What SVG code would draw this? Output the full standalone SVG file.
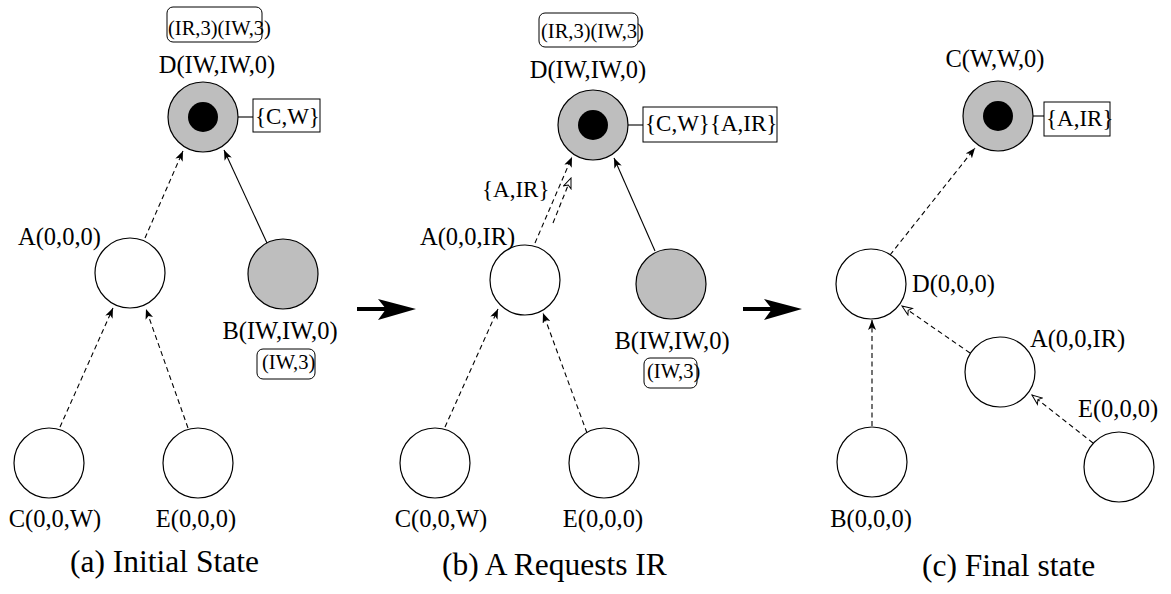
<svg xmlns="http://www.w3.org/2000/svg" width="1171" height="594" viewBox="0 0 1171 594">
<style>
text{font-family:"Liberation Serif","Times New Roman",serif;fill:#000}
.lbl{font-size:24.5px}
.box{font-size:20.5px}
.set{font-size:23px}
.cap{font-size:31.5px}
.mid{text-anchor:middle}
.n{fill:#fff;stroke:#000;stroke-width:1.2}
.g{fill:#bebebe;stroke:#000;stroke-width:1.2}
.core{fill:#000}
.rb{fill:none;stroke:#000;stroke-width:1}
.e{fill:none;stroke:#000;stroke-width:1.1}
.d{stroke-dasharray:5 3.5}
.f{marker-end:url(#af)}
.o{marker-end:url(#ao)}
</style>
<defs>
<marker id="af" viewBox="0 0 10 8" refX="10" refY="4" markerWidth="10" markerHeight="8" markerUnits="userSpaceOnUse" orient="auto">
<path d="M0,0 L10,4 L0,8 L2.5,4 Z" fill="#000"/>
</marker>
<marker id="ao" viewBox="-1 -1 12 10" refX="10" refY="4" markerWidth="12" markerHeight="10" markerUnits="userSpaceOnUse" orient="auto">
<path d="M0,0 L10,4 L0,8 L2.5,4 Z" fill="#fff" stroke="#000" stroke-width="1"/>
</marker>
</defs>

<g id="connectors">
<!-- panel a -->
<line class="e d f" x1="145" y1="238" x2="183" y2="151"/>
<line class="e f" x1="267" y1="243" x2="224" y2="150"/>
<line class="e d f" x1="60" y1="427" x2="113" y2="308"/>
<line class="e d f" x1="188" y1="428" x2="146" y2="309"/>
<!-- panel b -->
<line class="e d f" x1="535" y1="243" x2="572" y2="157"/>
<line class="e d o" x1="553" y1="223" x2="571" y2="178"/>
<line class="e f" x1="655" y1="251" x2="614" y2="158"/>
<line class="e d f" x1="445" y1="427" x2="498" y2="309"/>
<line class="e d f" x1="587" y1="433" x2="543" y2="313"/>
<!-- panel c -->
<line class="e d f" x1="890" y1="255" x2="975" y2="148"/>
<line class="e d f" x1="872" y1="426" x2="872" y2="320"/>
<line class="e d o" x1="970" y1="353" x2="902" y2="306"/>
<line class="e d o" x1="1093" y1="443" x2="1032" y2="395"/>
<!-- attachment lines -->
<line class="e" x1="238" y1="117" x2="253" y2="117"/>
<line class="e" x1="628" y1="125" x2="643" y2="125"/>
<line class="e" x1="1033" y1="116" x2="1044" y2="116"/>
<!-- transition arrows -->
<line x1="357" y1="309" x2="388" y2="309" stroke="#000" stroke-width="4"/>
<path d="M378,299 L416,309 L378,320 L386,309 Z" fill="#000"/>
<line x1="743" y1="309" x2="774" y2="309" stroke="#000" stroke-width="4"/>
<path d="M764,299 L802,309 L764,320 L772,309 Z" fill="#000"/>
</g>

<!-- Panel (a) -->
<g id="a-D">
<rect class="rb" x="167" y="7" width="95" height="35" rx="6"/>
<text class="box" x="168" y="35">(IR,3)(IW,3)</text>
<text class="lbl mid" x="217" y="73">D(IW,IW,0)</text>
<circle class="g" cx="203" cy="117" r="35"/>
<circle class="core" cx="203" cy="117" r="15"/>
<rect class="rb" x="253" y="99" width="67" height="33"/>
<text class="set" x="255" y="124">{C,W}</text>
</g>
<g id="a-A">
<circle class="n" cx="130" cy="273" r="35"/>
<text class="lbl" x="18" y="245">A(0,0,0)</text>
</g>
<g id="a-B">
<circle class="g" cx="283" cy="274" r="35"/>
<text class="lbl mid" x="280" y="339">B(IW,IW,0)</text>
<rect class="rb" x="257" y="349" width="58" height="30" rx="6"/>
<text class="box" x="262" y="369">(IW,3)</text>
</g>
<g id="a-C">
<circle class="n" cx="49" cy="463" r="35"/>
<text class="lbl mid" x="55" y="527">C(0,0,W)</text>
</g>
<g id="a-E">
<circle class="n" cx="198" cy="463" r="35"/>
<text class="lbl mid" x="196" y="527">E(0,0,0)</text>
</g>
<text class="cap" x="70" y="572">(a) Initial State</text>

<!-- Panel (b) -->
<g id="b-D">
<rect class="rb" x="539" y="13" width="99" height="34" rx="6"/>
<text class="box" x="541" y="38">(IR,3)(IW,3)</text>
<text class="lbl mid" x="588" y="78">D(IW,IW,0)</text>
<circle class="g" cx="593" cy="125" r="35"/>
<circle class="core" cx="593" cy="125" r="15"/>
<rect class="rb" x="643" y="107" width="134" height="35"/>
<text class="set" x="645" y="131">{C,W}{A,IR}</text>
</g>
<text class="set" x="482" y="197">{A,IR}</text>
<g id="b-A">
<circle class="n" cx="525" cy="280" r="35"/>
<text class="lbl" x="420" y="245">A(0,0,IR)</text>
</g>
<g id="b-B">
<circle class="g" cx="671" cy="284" r="35"/>
<text class="lbl mid" x="672" y="349">B(IW,IW,0)</text>
<rect class="rb" x="644" y="358" width="53" height="30" rx="6"/>
<text class="box" x="647" y="378">(IW,3)</text>
</g>
<g id="b-C">
<circle class="n" cx="435" cy="463" r="35"/>
<text class="lbl mid" x="441" y="527">C(0,0,W)</text>
</g>
<g id="b-E">
<circle class="n" cx="604" cy="463" r="35"/>
<text class="lbl mid" x="603" y="527">E(0,0,0)</text>
</g>
<text class="cap" x="442" y="575">(b) A Requests IR</text>

<!-- Panel (c) -->
<g id="c-C">
<text class="lbl mid" x="995" y="67">C(W,W,0)</text>
<circle class="g" cx="998" cy="116" r="35"/>
<circle class="core" cx="998" cy="116" r="15"/>
<rect class="rb" x="1044" y="102" width="66" height="34"/>
<text class="set" x="1046" y="126">{A,IR}</text>
</g>
<g id="c-D">
<circle class="n" cx="871" cy="284" r="35"/>
<text class="lbl" x="912" y="292">D(0,0,0)</text>
</g>
<g id="c-A">
<circle class="n" cx="1000" cy="372" r="35"/>
<text class="lbl" x="1030" y="347">A(0,0,IR)</text>
</g>
<g id="c-E">
<circle class="n" cx="1119" cy="467" r="35"/>
<text class="lbl" x="1078" y="417">E(0,0,0)</text>
</g>
<g id="c-B">
<circle class="n" cx="872" cy="462" r="35"/>
<text class="lbl mid" x="871" y="527">B(0,0,0)</text>
</g>
<text class="cap" x="922" y="576">(c) Final state</text>
</svg>
